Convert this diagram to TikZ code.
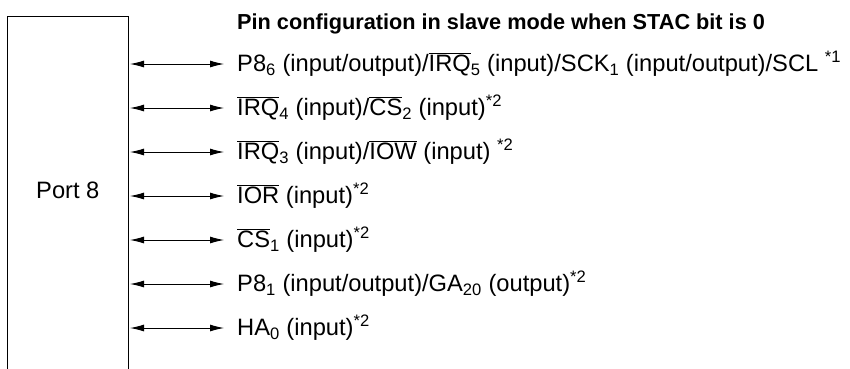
\documentclass[tikz,border=0pt]{standalone}
\usepackage{fontspec}
\setmainfont{Liberation Sans}
\usetikzlibrary{arrows.meta}
\newcommand\ovl[1]{$\overline{\mbox{#1}}$}
\newcommand\sub[1]{\textsubscript{#1}}
\newcommand\note[1]{\textsuperscript{*#1}}
\begin{document}
\begin{tikzpicture}[x=1pt,y=-1pt,
  lbl/.style={anchor=base west,inner sep=0pt,font=\fontsize{23.7}{26}\selectfont},
  pin/.style={line width=0.9pt,{Latex[length=14pt,width=7pt]}-{Latex[length=14pt,width=7pt]}}]
\useasboundingbox (0,0) rectangle (850,368);
\draw[line width=1pt] (7,380) -- (7,16) -- (128,16) -- (128,380);
\node[lbl] (port) at (36,198) {Port 8};
\node[lbl,font=\fontsize{21.7}{24}\selectfont\bfseries] (title) at (237,29) {Pin configuration in slave mode when STAC bit is 0};
\foreach \i/\y/\t in {
 1/64/{P8\sub{6} (input/output)/\ovl{IRQ}\sub{5} (input)/SCK\sub{1} (input/output)/SCL \note{1}},
 2/108/{\ovl{IRQ}\sub{4} (input)/\ovl{CS}\sub{2} (input)\note{2}},
 3/152/{\ovl{IRQ}\sub{3} (input)/\ovl{IOW} (input) \note{2}},
 4/196/{\ovl{IOR} (input)\note{2}},
 5/240/{\ovl{CS}\sub{1} (input)\note{2}},
 6/284/{P8\sub{1} (input/output)/GA\sub{20} (output)\note{2}},
 7/328/{HA\sub{0} (input)\note{2}}}{
  \coordinate (s\i) at (130,\y);
  \coordinate (e\i) at (224,\y);
  \node[lbl] (t\i) at (237,\y+7.5) {\t};
  \draw[pin] (s\i) -- (e\i);
}
\end{tikzpicture}
\end{document}
